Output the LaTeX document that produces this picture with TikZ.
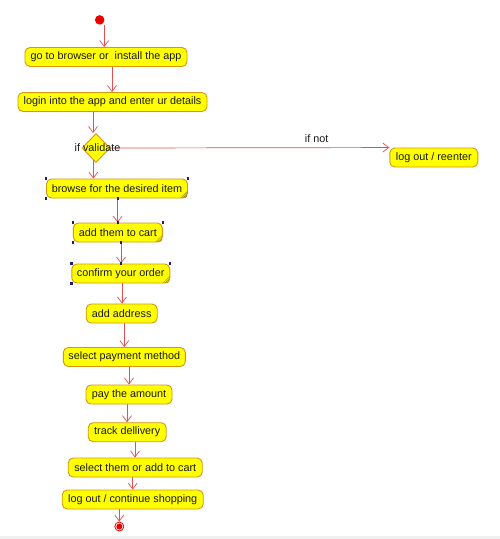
\documentclass[tikz,border=0pt]{standalone}
\usepackage{fontspec}
\setmainfont{Liberation Sans}
\usetikzlibrary{arrows.meta,shapes.geometric,backgrounds}
\definecolor{actfill}{RGB}{255,255,0}
\definecolor{actline}{RGB}{214,150,20}
\definecolor{flow}{RGB}{228,80,80}
\definecolor{ink}{RGB}{25,25,25}
\definecolor{handle}{RGB}{30,30,120}
\definecolor{grip}{RGB}{150,120,40}
\definecolor{dot}{RGB}{235,0,0}
% selection handles and resize grip on a selected activity
\newcommand\markselected[1]{%
  \fill[handle] (#1.north west) +(-1.2,-1.2) rectangle +(1.2,1.2);
  \fill[handle] (#1.north east) +(-1.2,-1.2) rectangle +(1.2,1.2);
  \fill[handle] (#1.south west) +(-1.2,-1.2) rectangle +(1.2,1.2);
  \draw[grip,line width=0.5pt] (#1.south east) +(-7,-0.6) -- +(-0.6,-7)
        (#1.south east) +(-5,-0.6) -- +(-0.6,-5)
        (#1.south east) +(-3,-0.6) -- +(-0.6,-3);
}
\newcommand\handleat[1]{\fill[handle] (#1) +(-1.2,-1.2) rectangle +(1.2,1.2);}
\begin{document}
\begin{tikzpicture}[x=1pt,y=-1pt,
  activity/.style={draw=actline, line width=0.9pt, fill=actfill, rounded corners=5pt,
    minimum height=19pt, inner sep=0pt, font=\fontsize{10.8}{12}\selectfont, text=ink},
  decision/.style={diamond, draw=actline, line width=0.9pt, fill=actfill,
    minimum width=28pt, minimum height=29pt, inner sep=0pt},
  flowarrow/.style={draw=flow, line width=0.7pt, -{Straight Barb[length=6pt,width=9pt]}},
  lbl/.style={font=\fontsize{10.8}{12}\selectfont, text=ink, inner sep=0pt},
]
\useasboundingbox (0,0) rectangle (500,539);

% states and activities
\node[circle, fill=dot, minimum size=9.5pt, inner sep=0pt] (start) at (99.7,19.9) {};
\node[activity, minimum width=162pt] (b1) at (106,57) {go to browser or\ \ install the app};
\node[activity, minimum width=189pt] (b2) at (112.5,102) {login into the app and enter ur details};
\node[decision] (dia) at (96,148) {};
\node[lbl] (val) at (97.5,148) {if validate};
\node[activity, minimum width=88pt] (reenter) at (433.8,157.5) {log out / reenter};
\node[lbl] (ifnot) at (316.7,139) {if not};
\node[activity, minimum width=141pt] (browse) at (117,188.5) {browse for the desired item};
\node[activity, minimum width=89pt] (cart) at (117.8,232.5) {add them to cart};
\node[activity, minimum width=98pt] (confirm) at (120.8,273.5) {confirm your order};
\node[activity, minimum width=71pt] (address) at (121.7,313.5) {add address};
\node[activity, minimum width=122pt] (payment) at (124.3,357) {select payment method};
\node[activity, minimum width=86pt] (pay) at (129,394.5) {pay the amount};
\node[activity, minimum width=78pt] (track) at (127.2,432.2) {track dellivery};
\node[activity, minimum width=134pt] (select) at (135.2,467.5) {select them or add to cart};
\node[activity, minimum width=141pt] (logout) at (132.7,499.5) {log out / continue shopping};
\node[circle, draw=dot, fill=white, line width=0.8pt, minimum size=9pt, inner sep=0pt] (end) at (119.3,526.5) {};
\fill[dot] (end.center) circle (3pt);

% selected activities
\markselected{browse}
\markselected{cart}
\markselected{confirm}
\handleat{[xshift=0.7pt]browse.south}
\handleat{[xshift=0.7pt]browse.south |- cart.north}
\handleat{[xshift=3.2pt]cart.south}
\handleat{[xshift=3.2pt]cart.south |- confirm.north}

% control flows
\begin{scope}[on background layer]
\fill[white] (0,0) rectangle (500,539);
\fill[black!6] (0,536) rectangle (500,539);
\draw[flowarrow] ([xshift=4.5pt]start.south) -- ([xshift=4.5pt]start.south |- b1.north);
\draw[flowarrow] ([xshift=6pt]b1.south) -- ([xshift=6pt]b1.south |- b2.north);
\draw[flowarrow] ([xshift=-19.5pt]b2.south) -- ([xshift=-19.5pt]b2.south |- dia.north);
\draw[flowarrow] ([xshift=-2.7pt]dia.center) -- ([xshift=-2.7pt]dia.center |- browse.north);
\draw[flowarrow] (dia.east) -- (reenter.north west);
\draw[flowarrow] ([xshift=0.7pt]browse.south) -- ([xshift=0.7pt]browse.south |- cart.north);
\draw[flowarrow] ([xshift=3.2pt]cart.south) -- ([xshift=3.2pt]cart.south |- confirm.north);
\draw[flowarrow] ([xshift=1.2pt]confirm.south) -- ([xshift=1.2pt]confirm.south |- address.north);
\draw[flowarrow] ([xshift=2.6pt]address.south) -- ([xshift=2.6pt]address.south |- payment.north);
\draw[flowarrow] ([xshift=4.7pt]payment.south) -- ([xshift=4.7pt]payment.south |- pay.north);
\draw[flowarrow] ([xshift=-2pt]pay.south) -- ([xshift=-2pt]pay.south |- track.north);
\draw[flowarrow] ([xshift=7.8pt]track.south) -- ([xshift=7.8pt]track.south |- select.north);
\draw[flowarrow] ([xshift=-2.5pt]select.south) -- ([xshift=-2.5pt]select.south |- logout.north);
\draw[flowarrow] ([xshift=-13.4pt]logout.south) -- (end.north);
\end{scope}
\end{tikzpicture}
\end{document}
